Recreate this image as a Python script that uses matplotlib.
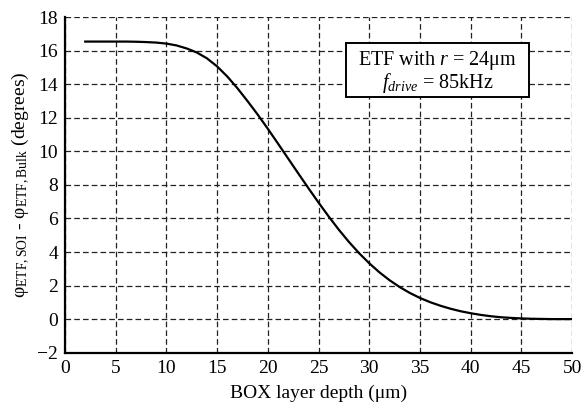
import numpy as np
import matplotlib.pyplot as plt
from matplotlib.patches import Rectangle

#phase difference between SOI and bulk ETF vs buried oxide depth
box_depth = [2, 3, 4, 5, 6, 7, 8, 9, 10, 11, 12, 13, 14, 15, 16, 17, 18, 19, 20,
             21, 22, 23, 24, 25, 26, 27, 28, 29, 30, 31, 32, 33, 34, 35, 36, 37,
             38, 39, 40, 41, 42, 43, 44, 45, 46, 47, 48, 49, 50]
phase_diff = [16.55, 16.55, 16.55, 16.55, 16.55, 16.54, 16.52, 16.49, 16.43, 16.32,
              16.14, 15.9, 15.55, 15.07, 14.47, 13.77, 13.0, 12.2, 11.35, 10.47,
              9.58, 8.69, 7.81, 6.95, 6.12, 5.33, 4.6, 3.93, 3.33, 2.79, 2.32,
              1.91, 1.56, 1.26, 1.01, 0.8, 0.62, 0.47, 0.35, 0.25, 0.17, 0.11,
              0.07, 0.04, 0.02, 0.01, 0.0, 0.0, 0.0]

x_ticks = np.arange(0, 51, 5)
y_ticks = np.arange(-2, 19, 2)

plt.rcParams['font.family'] = 'Liberation Serif'
plt.rcParams['mathtext.fontset'] = 'custom'
plt.rcParams['mathtext.rm'] = 'Liberation Serif'
plt.rcParams['mathtext.it'] = 'Liberation Serif:italic'
plt.rcParams['font.size'] = 14

fig = plt.figure(figsize=(5.85, 4.11), dpi=100)
ax = fig.add_axes([0.111, 0.142, 0.867, 0.816])

ax.plot(box_depth, phase_diff, color='black', linewidth=1.6)

ax.set_xlim(0, 50)
ax.set_ylim(-2, 18)
ax.set_xticks(x_ticks)
ax.set_yticks(y_ticks)
ax.grid(True, color='#222222', linestyle=(0, (4.5, 2.5)), linewidth=0.9)
ax.tick_params(length=0, pad=5)

for side in ['top', 'right']:
    ax.spines[side].set_visible(False)
for side in ['left', 'bottom']:
    ax.spines[side].set_linewidth(1.6)

ax.set_xlabel('BOX layer depth (μm)', labelpad=6)
ax.set_ylabel('φ$_{\\mathrm{ETF,SOI}}$ - φ$_{\\mathrm{ETF,Bulk}}$ (degrees)', labelpad=4)

#annotation box
ax.add_patch(Rectangle((0.554, 0.762), 0.361, 0.161, transform=ax.transAxes,
                       facecolor='white', edgecolor='black', linewidth=1.4, zorder=5))
ax.text(0.7345, 0.872, 'ETF with $r$ = 24μm', transform=ax.transAxes,
        ha='center', va='center', fontsize=14.5, zorder=6)
ax.text(0.7345, 0.805, '$f_{drive}$ = 85kHz', transform=ax.transAxes,
        ha='center', va='center', fontsize=14.5, zorder=6)

fig.savefig('out.png', dpi=100)
